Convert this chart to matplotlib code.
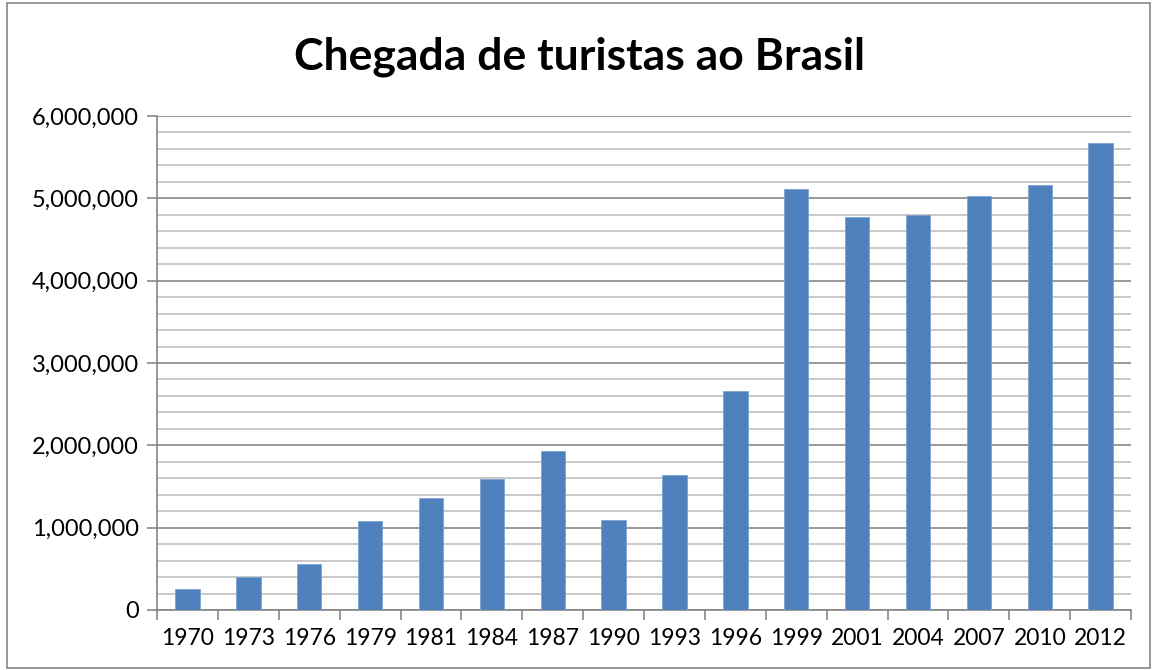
import matplotlib.pyplot as plt
import numpy as np
from matplotlib.ticker import FuncFormatter, MultipleLocator, FixedLocator
from matplotlib.patches import Rectangle

# Chegadas de turistas ao Brasil
anos = ['1970', '1973', '1976', '1979', '1981', '1984', '1987', '1990',
        '1993', '1996', '1999', '2001', '2004', '2007', '2010', '2012']
turistas = [249900, 399000, 555000, 1081000, 1357879, 1595726, 1929053, 1091067,
            1641138, 2665508, 5107169, 4772575, 4793703, 5025834, 5161379, 5676843]
y_ticks = [0, 1000000, 2000000, 3000000, 4000000, 5000000, 6000000]

plt.rcParams['font.family'] = ['Lato', 'DejaVu Sans']

fig = plt.figure(figsize=(11.53, 6.70), dpi=100)
ax = fig.add_axes([0.1362, 0.0896, 0.8448, 0.7373])

x = np.arange(len(anos))
ax.bar(x, turistas, width=0.4, color='#4F81BD', edgecolor='#7EA2CF', linewidth=0.6, zorder=3)

ax.set_xlim(-0.5, len(anos) - 0.5)
ax.set_ylim(0, 6000000)

# y axis: major + minor gridlines
ax.yaxis.set_major_locator(FixedLocator(y_ticks))
ax.yaxis.set_minor_locator(MultipleLocator(200000))
ax.yaxis.set_major_formatter(FuncFormatter(lambda v, p: '{:,.0f}'.format(v)))
ax.grid(axis='y', which='major', color='#868686', linewidth=1.2, zorder=0)
ax.grid(axis='y', which='minor', color='#C0C0C0', linewidth=1.2, zorder=0)
ax.tick_params(axis='y', which='major', length=7, width=1.2, color='#868686',
               labelsize=17, pad=6, direction='out')
ax.tick_params(axis='y', which='minor', length=0)

# x axis: ticks between categories
ax.set_xticks(x)
ax.set_xticklabels(anos)
ax.xaxis.set_minor_locator(FixedLocator(np.arange(-0.5, len(anos), 1.0)))
ax.tick_params(axis='x', which='major', length=0, labelsize=16.5, pad=13)
ax.tick_params(axis='x', which='minor', length=7, width=1.2, color='#868686', direction='out')

for s in ['top', 'right']:
    ax.spines[s].set_visible(False)
for s in ['left', 'bottom']:
    ax.spines[s].set_color('#868686')
    ax.spines[s].set_linewidth(1.2)

fig.text(0.503, 0.915, 'Chegada de turistas ao Brasil', ha='center', va='center',
         fontsize=32, fontweight='bold')

# chart border
fig.patches.append(Rectangle((0.006, 0.003), 0.991, 0.993, transform=fig.transFigure,
                             fill=False, edgecolor='#868686', linewidth=1.2))

plt.savefig('out.png', dpi=100)
